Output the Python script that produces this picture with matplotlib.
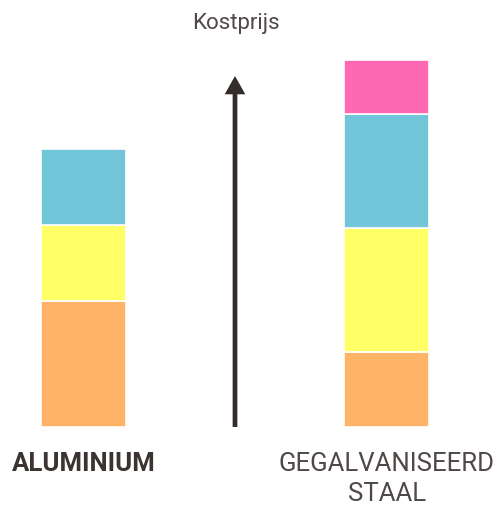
import matplotlib
matplotlib.use("Agg")
import matplotlib.pyplot as plt

categories = ["ALUMINIUM", "GEGALVANISEERD\nSTAAL"]
segment_colors = ["#ffb366", "#ffff66", "#73c6d9", "#ff69b4"]
aluminium = [126, 76, 76]
staal = [75, 124, 114, 54]
axis_label = "Kostprijs"

fig = plt.figure(figsize=(5.01, 5.06), dpi=100)
ax = fig.add_axes([0, 0, 1, 1])
ax.set_xlim(0, 501)
ax.set_ylim(-78, 428)
ax.axis("off")

txt = "#3b3432"
positions = [84, 387]
width = 85
for pos, vals in zip(positions, [aluminium, staal]):
    bottom = 0
    for v, c in zip(vals, segment_colors):
        ax.bar(pos, v, width=width, bottom=bottom, color=c, edgecolor="white", linewidth=1.2, align="center")
        bottom += v

# arrow
ax.annotate("", xy=(235, 351), xytext=(235, 0),
            arrowprops=dict(arrowstyle="-|>,head_length=0.8,head_width=0.45", lw=3.4,
                            color="#342c2a", shrinkA=0, shrinkB=0, mutation_scale=10,
                            capstyle="butt", joinstyle="miter"))

ax.text(236, 405, axis_label, ha="center", va="center", fontsize=16, color="#4f4846",
        family="Roboto", fontweight="normal")
ax.text(84, -36, categories[0], ha="center", va="center", fontsize=18.5, color=txt,
        family="Roboto", fontweight="bold")
ax.text(387, -51, categories[1], ha="center", va="center", fontsize=18.5, color="#4f4846",
        family="Roboto", fontweight="normal", linespacing=1.3)

fig.savefig("out.png", dpi=100)
